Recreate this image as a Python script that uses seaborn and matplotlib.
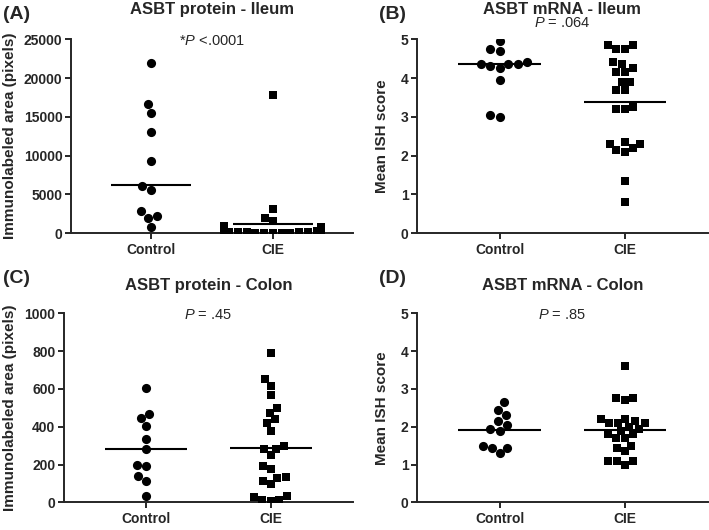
import numpy as np
import pandas as pd
import matplotlib
matplotlib.use("Agg")
import matplotlib.pyplot as plt
import seaborn as sns

# values
groups = ["Control", "CIE"]

a_control = [21900, 16600, 15500, 13000, 9300, 6100, 5600, 2800, 2200, 1900, 800]
a_cie = [17800, 3100, 2000, 1600, 900, 750, 650, 550, 480, 420, 380, 330, 290,
         250, 210, 180, 150, 120, 100, 80, 60, 40, 30, 20]
a_lines = [6200, 1250]

b_control = [4.95, 4.75, 4.7, 4.35, 4.35, 4.25, 4.35, 4.4, 4.3, 3.95, 3.0, 3.05]
b_cie = [4.85, 4.75, 4.75, 4.85, 4.35, 4.15, 4.15, 4.25, 4.4, 3.9, 3.9, 3.7,
         3.7, 3.2, 3.2, 3.25, 2.3, 2.2, 2.1, 2.15, 2.3, 2.35, 1.35, 0.8]
b_lines = [4.35, 3.37]

c_control = [605, 465, 445, 405, 335, 285, 195, 200, 140, 115, 35]
c_cie = [790, 650, 615, 570, 500, 475, 440, 420, 380, 300, 280, 285, 250, 190,
         175, 135, 115, 100, 130, 35, 15, 10, 12, 30]
c_lines = [285, 288]

d_control = [2.65, 2.45, 2.3, 2.15, 2.05, 1.95, 1.9, 1.5, 1.45, 1.45, 1.3]
d_cie = [3.6, 2.75, 2.7, 2.75, 2.2, 2.15, 2.1, 2.1, 2.1, 2.2, 2.0, 1.9, 1.95,
         1.8, 1.7, 1.7, 1.8, 1.45, 1.5, 1.35, 1.1, 1.0, 1.1, 1.1]
d_lines = [1.92, 1.92]

sns.set_style("ticks")
plt.rcParams["font.family"] = ["Liberation Sans", "DejaVu Sans"]
plt.rcParams["mathtext.fontset"] = "custom"
plt.rcParams["mathtext.it"] = "Liberation Sans:italic"
plt.rcParams["mathtext.rm"] = "Liberation Sans"

fig = plt.figure(figsize=(7.09, 5.30), dpi=100)


def panel(rect, control, cie, lines, ymax, yticks, ylabel, title, ptext,
          letter, title_y, p_y, ylabel_x):
    ax = fig.add_axes(rect)
    df = pd.DataFrame({
        "group": ["Control"] * len(control) + ["CIE"] * len(cie),
        "value": control + cie,
    })
    sns.swarmplot(data=df[df.group == "Control"], x="group", y="value",
                  order=groups, marker="o", color="black", size=6.6, ax=ax,
                  linewidth=0)
    sns.swarmplot(data=df[df.group == "CIE"], x="group", y="value",
                  order=groups, marker="s", color="black", size=6.0, ax=ax,
                  linewidth=0)
    for i, v in enumerate(lines):
        ax.hlines(v, i - 0.33, i + 0.33, color="black", lw=1.5, zorder=5)
    ax.set_xlim(-0.66, 1.66)
    ax.set_ylim(0, ymax)
    ax.set_yticks(yticks)
    ax.set_xlabel("")
    ax.set_ylabel(ylabel, fontsize=11, fontweight="bold")
    ax.yaxis.set_label_coords(ylabel_x, 0.5)
    for lab in ax.get_xticklabels() + ax.get_yticklabels():
        lab.set_fontweight("bold")
        lab.set_fontsize(10)
    ax.tick_params(axis="y", width=1.4, length=4, pad=2)
    ax.tick_params(axis="x", width=1.4, length=4, pad=3)
    sns.despine(ax=ax)
    for s in ["left", "bottom"]:
        ax.spines[s].set_linewidth(1.4)
    ax.text(0.5, title_y, title, transform=ax.transAxes, ha="center",
            va="center", fontsize=12, fontweight="bold")
    ax.text(0.5, p_y, ptext, transform=ax.transAxes, ha="center",
            va="center", fontsize=10.5)
    ax.text(letter[0], letter[1], letter[2], transform=fig.transFigure,
            ha="left", va="center", fontsize=14, fontweight="bold")
    return ax


panel([0.100, 0.560, 0.398, 0.366], a_control, a_cie, a_lines, 25000,
      [0, 5000, 10000, 15000, 20000, 25000], "Immunolabeled area (pixels)",
      "ASBT protein - Ileum", "*$P$ <.0001", (0.004, 0.973, "(A)"),
      1.155, 0.99, -0.19)
panel([0.588, 0.560, 0.410, 0.366], b_control, b_cie, b_lines, 5,
      [0, 1, 2, 3, 4, 5], "Mean ISH score",
      "ASBT mRNA - Ileum", "$P$ = .064", (0.535, 0.973, "(B)"),
      1.155, 1.083, -0.096)
panel([0.090, 0.052, 0.408, 0.357], c_control, c_cie, c_lines, 1000,
      [0, 200, 400, 600, 800, 1000], "Immunolabeled area (pixels)",
      "ASBT protein - Colon", "$P$ = .45", (0.004, 0.475, "(C)"),
      1.145, 0.99, -0.163)
panel([0.588, 0.052, 0.410, 0.357], d_control, d_cie, d_lines, 5,
      [0, 1, 2, 3, 4, 5], "Mean ISH score",
      "ASBT mRNA - Colon", "$P$ = .85", (0.535, 0.475, "(D)"),
      1.145, 0.99, -0.096)

fig.savefig("out.png", dpi=100)
